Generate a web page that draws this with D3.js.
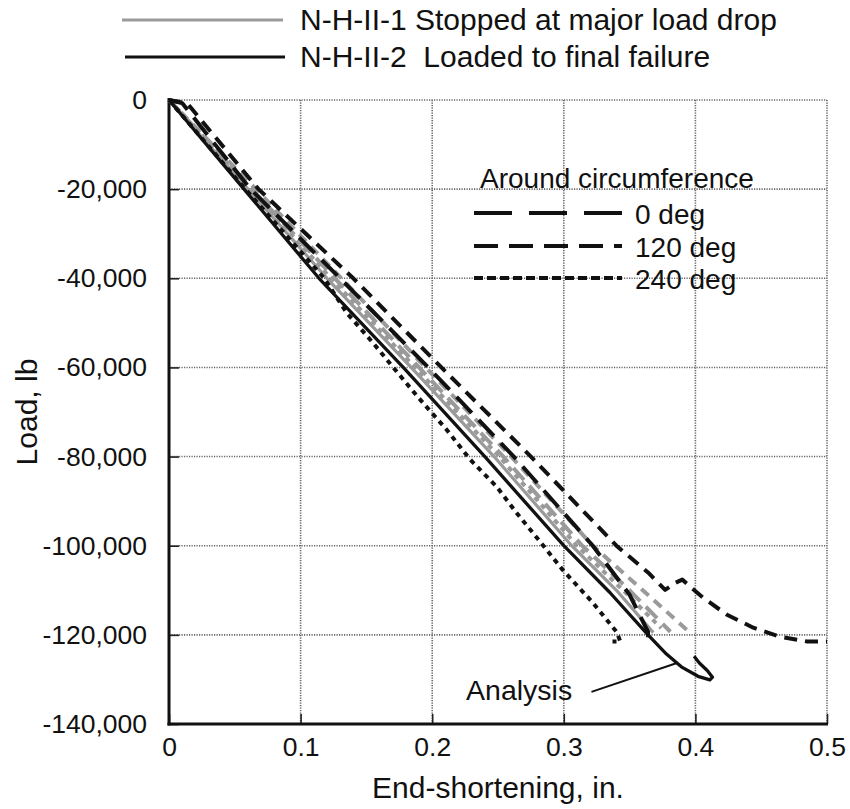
<!DOCTYPE html>
<html>
<head>
<meta charset="utf-8">
<script src="https://cdn.jsdelivr.net/npm/d3@7"></script>
<style>
  html, body { margin: 0; padding: 0; background: #fff; }
  svg text { font-family: "Liberation Sans", Arial, Helvetica, sans-serif; fill: #111; }
</style>
</head>
<body>
<svg id="chart" width="850" height="809"></svg>
<script>
// ---------- data ----------
const xTicks = [0, 0.1, 0.2, 0.3, 0.4, 0.5];
const xTickLabels = ["0", "0.1", "0.2", "0.3", "0.4", "0.5"];
const yTicks = [0, -20000, -40000, -60000, -80000, -100000, -120000, -140000];
const yTickLabels = ["0", "-20,000", "-40,000", "-60,000", "-80,000", "-100,000", "-120,000", "-140,000"];

const seriesNames = ["N-H-II-1 Stopped at major load drop", "N-H-II-2  Loaded to final failure"];
const positionNames = ["0 deg", "120 deg", "240 deg"];

// N-H-II-1 (gray)
const graySolidX = [0, 0.060, 0.120, 0.184, 0.247, 0.306, 0.340, 0.368];
const graySolidY = [0, -20000, -40000, -60000, -80000, -100000, -110000, -119500];
const gray0X = [0, 0.063, 0.126, 0.190, 0.254, 0.314, 0.350, 0.381];
const gray0Y = [0, -20000, -40000, -60000, -80000, -100000, -110000, -119300];
const gray120X = [0, 0.066, 0.131, 0.195, 0.260, 0.322, 0.360, 0.394];
const gray120Y = [0, -20000, -40000, -60000, -80000, -100000, -110000, -119000];
const gray240X = [0, 0.062, 0.123, 0.187, 0.251, 0.310, 0.345, 0.374];
const gray240Y = [0, -20000, -40000, -60000, -80000, -100000, -110000, -118500];

// N-H-II-2 (black)
const black0X = [0, 0.010, 0.062, 0.130, 0.197, 0.262, 0.322, 0.350, 0.364, 0.364];
const black0Y = [0, -700, -20000, -40000, -60000, -80000, -100000, -111000, -119300, -121500];
const black120X = [0, 0.014, 0.068, 0.140, 0.207, 0.275, 0.340, 0.364, 0.377, 0.385, 0.390, 0.396, 0.406, 0.424, 0.444, 0.464, 0.485, 0.500];
const black120Y = [0, -800, -20000, -40000, -60000, -80000, -100000, -106000, -109900, -108300, -107600, -109200, -111700, -115500, -118400, -120400, -121500, -121500];
const black240X = [0, 0.058, 0.118, 0.135, 0.155, 0.170, 0.189, 0.211, 0.229, 0.249, 0.264, 0.282, 0.299, 0.322, 0.340, 0.343, 0.337];
const black240Y = [0, -20000, -40000, -47750, -54480, -59860, -66590, -73990, -80710, -86770, -92590, -99100, -105370, -112770, -119300, -121500, -121500];

// Analysis
const analysisX = [0, 0.057, 0.114, 0.178, 0.240, 0.300, 0.335, 0.364, 0.378, 0.390, 0.402, 0.411, 0.413, 0.409, 0.403, 0.399];
const analysisY = [0, -20000, -40000, -60000, -80000, -100000, -110500, -120000, -124300, -127300, -129300, -130100, -129500, -128000, -126300, -124800];

const analysisLabel = "Analysis";
const analysisLabelAt = [0.2257, -134700];
const analysisPointer = [[0.321, -132800], [0.386, -126300]];

// ---------- layout ----------
const svg = d3.select("#chart");
const x = d3.scaleLinear().domain([0, 0.5]).range([169, 827]);
const y = d3.scaleLinear().domain([0, -140000]).range([100, 724]);

const GRAY = "#9a9a9a";
const dashPlot = { "solid": null, "0": "22,10", "120": "13,8", "240": "5,5" };
const dashGray = { "0": "16,8", "120": "10,7", "240": "5,5" };

// gridlines
const grid = svg.append("g");
grid.selectAll("line.gx").data(xTicks.slice(1)).enter().append("line")
  .attr("x1", d => x(d)).attr("x2", d => x(d))
  .attr("y1", y(0)).attr("y2", y(-140000))
  .attr("stroke", "#666").attr("stroke-width", 1.6).attr("stroke-dasharray", "1.2,1.3");
grid.selectAll("line.gy").data(yTicks.slice(0, -1)).enter().append("line")
  .attr("x1", x(0)).attr("x2", x(0.5))
  .attr("y1", d => y(d)).attr("y2", d => y(d))
  .attr("stroke", "#666").attr("stroke-width", 1.6).attr("stroke-dasharray", "1.2,1.3");

// axes
const yAxis = d3.axisLeft(y).tickValues(yTicks).tickSize(-10).tickPadding(22)
  .tickFormat((d, i) => yTickLabels[i]);
const xAxis = d3.axisBottom(x).tickValues(xTicks).tickSize(-10).tickPadding(13)
  .tickFormat((d, i) => xTickLabels[i]);

const gy = svg.append("g").attr("transform", `translate(${x(0)},0)`).call(yAxis);
const gx = svg.append("g").attr("transform", `translate(0,${y(-140000)})`).call(xAxis);
[gx, gy].forEach(g => {
  g.select(".domain").remove();
  g.selectAll(".tick line").attr("stroke", "#222").attr("stroke-width", 1.6);
  g.selectAll(".tick text").attr("font-size", 26.5).attr("fill", "#111")
    .attr("font-family", '"Liberation Sans", Arial, sans-serif');
});

// axis lines
svg.append("line").attr("x1", x(0)).attr("x2", x(0)).attr("y1", y(0) - 2).attr("y2", y(-140000) + 1.5)
  .attr("stroke", "#111").attr("stroke-width", 3);
svg.append("line").attr("x1", x(0) - 1.5).attr("x2", x(0.5) + 1).attr("y1", y(-140000)).attr("y2", y(-140000))
  .attr("stroke", "#111").attr("stroke-width", 3);

// axis titles
svg.append("text").attr("x", (x(0) + x(0.5)) / 2).attr("y", 798).attr("text-anchor", "middle")
  .attr("font-size", 30).text("End-shortening, in.");
svg.append("text").attr("transform", `translate(37,${(y(0) + y(-140000)) / 2}) rotate(-90)`)
  .attr("text-anchor", "middle").attr("font-size", 30).text("Load, lb");

// curves
const line = d3.line().x(d => x(d[0])).y(d => y(d[1]));
const zip = (a, b) => a.map((v, i) => [v, b[i]]);
const curves = [
  { xs: graySolidX, ys: graySolidY, color: GRAY, dash: dashPlot.solid, w: 3.2 },
  { xs: gray240X, ys: gray240Y, color: GRAY, dash: dashGray["240"], w: 4 },
  { xs: gray0X, ys: gray0Y, color: GRAY, dash: dashGray["0"], w: 4 },
  { xs: gray120X, ys: gray120Y, color: GRAY, dash: dashGray["120"], w: 4 },
  { xs: black0X, ys: black0Y, color: "#111", dash: dashPlot["0"], w: 4 },
  { xs: black120X, ys: black120Y, color: "#111", dash: dashPlot["120"], w: 4 },
  { xs: black240X, ys: black240Y, color: "#111", dash: dashPlot["240"], w: 4 },
  { xs: analysisX, ys: analysisY, color: "#111", dash: null, w: 3.3 }
];
svg.append("g").selectAll("path").data(curves).enter().append("path")
  .attr("d", d => line(zip(d.xs, d.ys)))
  .attr("fill", "none")
  .attr("stroke", d => d.color)
  .attr("stroke-width", d => d.w)
  .attr("stroke-linejoin", "round")
  .attr("stroke-dasharray", d => d.dash);

// Analysis annotation
svg.append("text").attr("x", x(analysisLabelAt[0])).attr("y", y(analysisLabelAt[1]))
  .attr("font-size", 28.5).text(analysisLabel);
svg.append("path").attr("d", line(analysisPointer)).attr("stroke", "#111").attr("stroke-width", 2).attr("fill", "none");

// top legend
const topLeg = [
  { name: seriesNames[0], color: GRAY, y: 20, x1: 122, x2: 283 },
  { name: seriesNames[1], color: "#111", y: 57, x1: 125, x2: 285 }
];
const tl = svg.append("g").selectAll("g").data(topLeg).enter().append("g");
tl.append("line").attr("x1", d => d.x1).attr("x2", d => d.x2).attr("y1", d => d.y).attr("y2", d => d.y)
  .attr("stroke", d => d.color).attr("stroke-width", 3.2);
tl.append("text").attr("x", 300).attr("y", d => d.y + 10).attr("font-size", 30)
  .style("white-space", "pre").attr("xml:space", "preserve").text(d => d.name);

// inset legend
svg.append("text").attr("x", 480).attr("y", 188).attr("font-size", 28).text("Around circumference");
const insetDash = ["38,17", "24,11", "9,4"];
const insetY = [213, 246, 278];
const il = svg.append("g").selectAll("g").data(positionNames).enter().append("g");
il.append("line").attr("x1", 474).attr("x2", 622).attr("y1", (d, i) => insetY[i]).attr("y2", (d, i) => insetY[i])
  .attr("stroke", "#111").attr("stroke-width", 3.8).attr("stroke-dasharray", (d, i) => insetDash[i]);
il.append("text").attr("x", 635).attr("y", (d, i) => insetY[i] + 11).attr("font-size", 28).text(d => d);
</script>
</body>
</html>
